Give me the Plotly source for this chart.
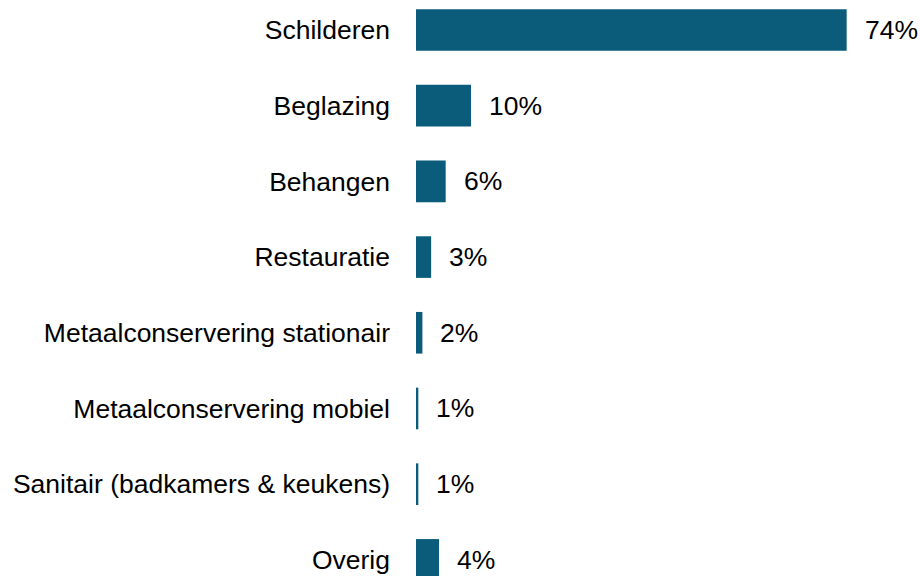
import plotly.graph_objects as go

categories = [
    "Schilderen",
    "Beglazing",
    "Behangen",
    "Restauratie",
    "Metaalconservering stationair",
    "Metaalconservering mobiel",
    "Sanitair (badkamers & keukens)",
    "Overig",
]
values = [74.0, 9.45, 5.1, 2.6, 1.1, 0.4, 0.4, 3.95]
value_labels = ["74%", "10%", "6%", "3%", "2%", "1%", "1%", "4%"]

BAR_COLOR = "#0b5c7a"
FONT = "Liberation Sans, Arial, sans-serif"
FSIZE = 26.5

fig = go.Figure(
    go.Bar(
        x=values,
        y=categories,
        orientation="h",
        marker=dict(color=BAR_COLOR, line=dict(width=0)),
        width=0.55,
        hoverinfo="skip",
    )
)

for cat, v, lab in zip(categories, values, value_labels):
    fig.add_annotation(
        x=v, y=cat, text=lab, xanchor="left", yanchor="middle",
        xshift=16, showarrow=False,
        font=dict(family=FONT, size=FSIZE, color="#000000"),
    )

fig.update_layout(
    width=920, height=576,
    margin=dict(l=416, r=0, t=0, b=0),
    paper_bgcolor="white", plot_bgcolor="white",
    showlegend=False,
    font=dict(family=FONT, size=FSIZE, color="#000000"),
    xaxis=dict(range=[0, 86.6], visible=False, fixedrange=True),
    yaxis=dict(
        type="category",
        categoryorder="array", categoryarray=categories,
        range=[7.213, -0.396],
        showgrid=False, zeroline=False, showline=False,
        ticks="", ticklabelstandoff=25,
        tickfont=dict(family=FONT, size=FSIZE, color="#000000"),
        fixedrange=True,
    ),
)

fig.write_html(
    "out.html",
    config={"displayModeBar": False, "staticPlot": True},
    post_script="document.body.style.margin='0';document.body.style.overflow='hidden';",
)
